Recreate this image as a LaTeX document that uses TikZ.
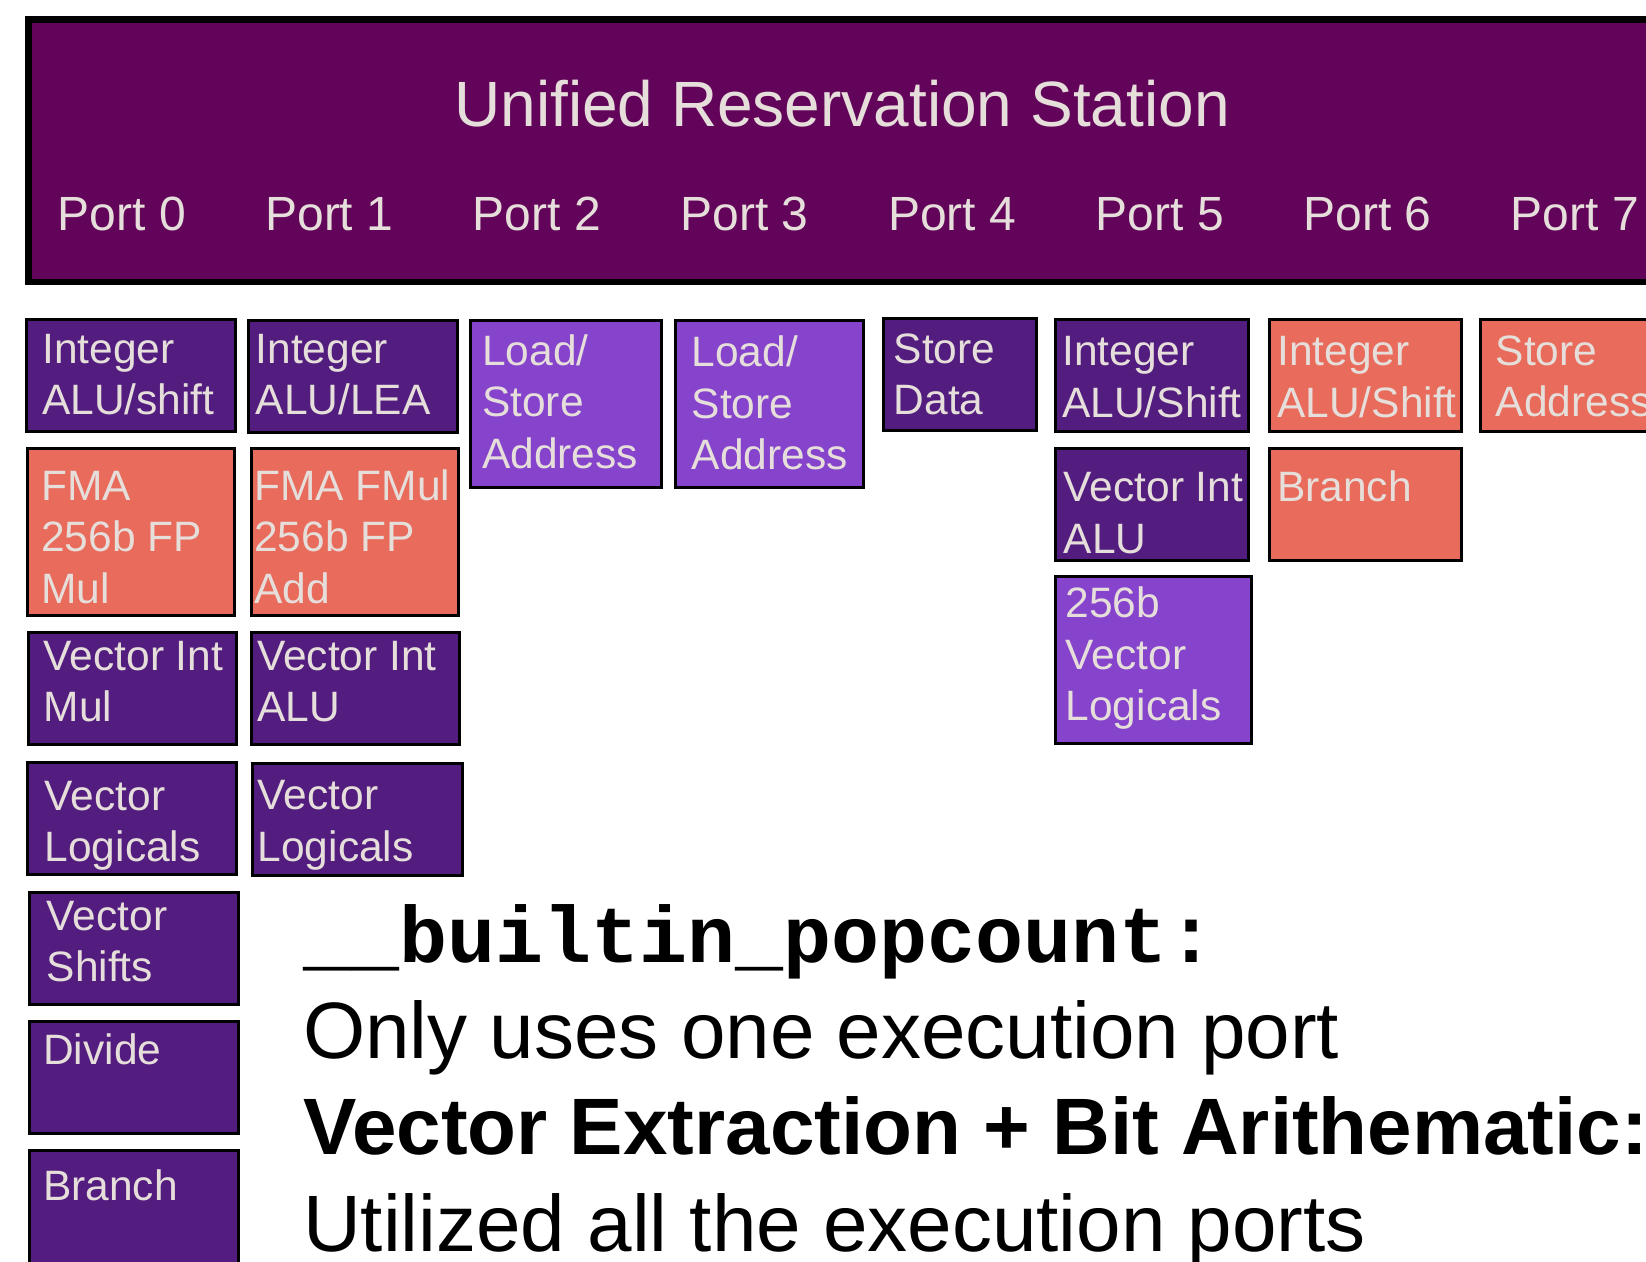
\documentclass[tikz,border=0pt]{standalone}
\usepackage{fontspec}
\setmainfont{Liberation Sans}
\setmonofont{Liberation Mono}
\definecolor{rsfill}{RGB}{98,5,90}
\definecolor{dpurp}{RGB}{83,29,128}
\definecolor{lpurp}{RGB}{134,67,204}
\definecolor{orng}{RGB}{232,107,91}
\definecolor{txtc}{RGB}{230,222,218}
\newcommand\mlines[1]{\begin{tabular}[t]{@{}l@{}}#1\end{tabular}}
\begin{document}
\begin{tikzpicture}[x=1pt,y=-1pt,
  ubox/.style={rectangle, draw=black, line width=3pt, outer sep=0pt, inner sep=0pt, anchor=north west},
  dbox/.style={ubox, fill=dpurp},
  lbox/.style={ubox, fill=lpurp},
  obox/.style={ubox, fill=orng},
  sbox/.style={minimum width=#1pt, minimum height=112pt},
  tbox/.style={minimum width=#1pt, minimum height=167pt},
  btxt/.style={anchor=base west, inner sep=0pt, text=txtc, font=\fontsize{42.5}{51.5}\selectfont},
  porttxt/.style={anchor=base west, inner sep=0pt, text=txtc, font=\fontsize{48}{56}\selectfont},
  bigtxt/.style={anchor=base west, inner sep=0pt, text=black, font=\fontsize{80}{96}\selectfont}
]
\useasboundingbox (0,0) rectangle (1646,1261);
\clip (0,0) rectangle (1646,1261);

% reservation station
\node[rectangle, draw=black, line width=6.5pt, fill=rsfill, outer sep=0pt, inner sep=0pt,
      anchor=north west, minimum width=1700pt, minimum height=262.5pt] (rs) at (28.25,19.25) {};
\node[anchor=base, inner sep=0pt, text=txtc, font=\fontsize{64}{72}\selectfont] (title) at (842,126.5) {Unified Reservation Station};
\foreach \i in {0,...,7}
  \node[porttxt] (p\i) at ({57.5+207.6*\i},230.7) {Port \i};

% port 0
\node[dbox, sbox=209] (a1) at (26.5,319.5) {};
\node[obox, tbox=207] (a2) at (27.5,448.5) {};
\node[dbox, sbox=208.5] (a3) at (28,632.5) {};
\node[dbox, sbox=209] (a4) at (27.5,762.5) {};
\node[dbox, sbox=209] (a5) at (29,892.5) {};
\node[dbox, sbox=209] (a6) at (29,1021.5) {};
\node[dbox, minimum width=209pt, minimum height=200pt] (a7) at (29,1150.5) {};
\node[btxt] (ta1) at (42,363) {\mlines{Integer\\ALU/shift}};
\node[btxt] (ta2) at (41,500) {\mlines{FMA\\256b FP\\Mul}};
\node[btxt] (ta3) at (43.5,670) {\mlines{Vector Int\\Mul}};
\node[btxt] (ta4) at (44.5,810) {\mlines{Vector\\Logicals}};
\node[btxt] (ta5) at (46.5,930) {\mlines{Vector\\Shifts}};
\node[btxt] (ta6) at (43,1064) {Divide};
\node[btxt] (ta7) at (43,1200) {Branch};

% port 1
\node[dbox, sbox=209] (b1) at (248.5,320.5) {};
\node[obox, tbox=207] (b2) at (251.5,448.5) {};
\node[dbox, sbox=208] (b3) at (251.5,632.5) {};
\node[dbox, sbox=210] (b4) at (252.5,763.5) {};
\node[btxt] (tb1) at (255.5,363) {\mlines{Integer\\ALU/LEA}};
\node[btxt] (tb2) at (254,500) {\mlines{FMA FMul\\256b FP\\Add}};
\node[btxt] (tb3) at (257,670) {\mlines{Vector Int\\ALU}};
\node[btxt] (tb4) at (257.5,809.5) {\mlines{Vector\\Logicals}};

% ports 2, 3, 4
\node[lbox, tbox=191] (c1) at (470.5,320.5) {};
\node[lbox, tbox=188] (d1) at (675.5,320.5) {};
\node[dbox, sbox=153] (e1) at (883.5,318.5) {};
\node[btxt] (tc1) at (482,365) {\mlines{Load/\\Store\\Address}};
\node[btxt] (td1) at (691.5,366.5) {\mlines{Load/\\Store\\Address}};
\node[btxt] (te1) at (893.5,363) {\mlines{Store\\Data}};

% port 5
\node[dbox, sbox=193] (f1) at (1055.5,319.5) {};
\node[dbox, sbox=193] (f2) at (1055.5,448.5) {};
\node[lbox, tbox=196] (f3) at (1055.5,576.5) {};
\node[btxt] (tf1) at (1062,365.5) {\mlines{Integer\\ALU/Shift}};
\node[btxt] (tf2) at (1063.5,501.5) {\mlines{Vector Int\\ALU}};
\node[btxt] (tf3) at (1065.5,617.5) {\mlines{256b\\Vector\\Logicals}};

% port 6
\node[obox, sbox=192] (g1) at (1269.5,319.5) {};
\node[obox, sbox=192] (g2) at (1269.5,448.5) {};
\node[btxt] (tg1) at (1277,365.5) {\mlines{Integer\\ALU/Shift}};
\node[btxt] (tg2) at (1277,501.5) {Branch};

% port 7
\node[obox, sbox=238] (h1) at (1480.5,319.5) {};
\node[btxt] (th1) at (1495.5,365) {\mlines{Store\\Address}};

% bottom text
\node[bigtxt, font=\fontsize{80}{96}\ttfamily\bfseries] (bt1) at (303,962) {\_\_builtin\_popcount:};
\node[bigtxt] (bt2) at (303,1058) {Only uses one execution port};
\node[bigtxt, font=\fontsize{80}{96}\bfseries] (bt3) at (303,1154) {Vector Extraction + Bit Arithematic:};
\node[bigtxt] (bt4) at (303,1251) {Utilized all the execution ports};
\end{tikzpicture}
\end{document}
